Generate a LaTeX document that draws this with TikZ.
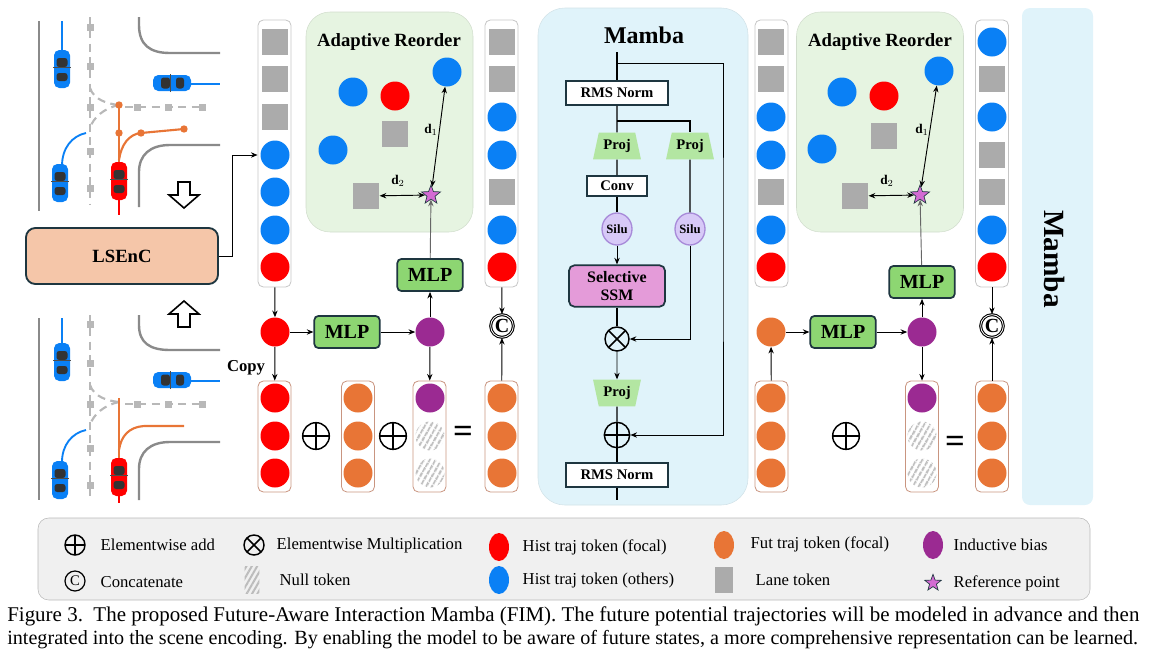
\documentclass[tikz,border=0pt]{standalone}
\usepackage{fontspec}
\setmainfont{Liberation Serif}
\usetikzlibrary{shapes.geometric,arrows.meta,patterns.meta,calc}
\definecolor{cred}{HTML}{FF0000}
\definecolor{cblue}{HTML}{0A80F5}
\definecolor{corange}{HTML}{E87536}
\definecolor{cpurple}{HTML}{9B2A92}
\definecolor{cgray}{HTML}{ABABAB}
\definecolor{cgreen}{HTML}{8DD672}
\definecolor{cdark}{HTML}{1E3640}
\definecolor{clse}{HTML}{F5C6A9}
\definecolor{cadapt}{HTML}{E6F4E1}
\definecolor{cmamba}{HTML}{E0F3FA}
\definecolor{cssm}{HTML}{E49BD9}
\definecolor{csilu}{HTML}{D7C9F7}
\definecolor{csilud}{HTML}{A88BD9}
\definecolor{cproj}{HTML}{B3E6A2}
\definecolor{cbrown}{HTML}{C99580}
\definecolor{cstar}{HTML}{D36BD3}
\definecolor{croad}{HTML}{8A8A8A}
\definecolor{cdash}{HTML}{B8B8B8}
\newcommand{\carat}[4]{\begin{scope}[shift={(#1,#2)},rotate=#3]
 \fill[#4,rounded corners=4pt] (-8,-19) rectangle (8,19);
 \fill[black!80,rounded corners=2pt] (-5.5,-11) rectangle (5.5,-2);
 \fill[black!80,rounded corners=2pt] (-5.5,4) rectangle (5.5,12);
 \draw[black!70,line width=0.6pt] (-9,-2) -- (9,-2);
 \end{scope}}
\tikzset{
 arr/.style={-{Stealth[length=5pt,width=4pt]},line width=0.7pt},
 darr/.style={{Stealth[length=5pt,width=4pt]}-{Stealth[length=5pt,width=4pt]},line width=0.7pt},
 tok/.style={circle,minimum size=21.75pt,inner sep=0pt},
 rt/.style={tok,fill=cred}, bt/.style={tok,fill=cblue}, ot/.style={tok,fill=corange}, ppt/.style={tok,fill=cpurple},
 nt/.style={tok,pattern={Lines[angle=60,distance=4pt,line width=1.7pt]},pattern color=cgray!75},
 lt/.style={rectangle,minimum size=20pt,inner sep=0pt,fill=cgray},
 col/.style={draw=gray!45,rounded corners=4pt,line width=0.6pt,minimum width=24.75pt,minimum height=200.25pt,inner sep=0pt},
 bcol/.style={draw=cbrown,rounded corners=4pt,line width=0.6pt,minimum width=24.75pt,minimum height=83.25pt,inner sep=0pt},
 mlp/.style={draw=cdark,line width=1.3pt,fill=cgreen,rounded corners=3pt,minimum width=49pt,minimum height=24pt,font=\bfseries\fontsize{15}{15}\selectfont},
 adapt/.style={fill=cadapt,draw=cadapt!80!gray,rounded corners=18pt,minimum width=125.25pt,minimum height=165pt},
 atitle/.style={font=\bfseries\fontsize{14}{14}\selectfont},
 strs/.style={star,star points=5,star point ratio=2.4,minimum size=15pt,inner sep=0pt,fill=cstar,draw=cdark,line width=0.5pt},
 oplus/.style={circle,draw,line width=1.1pt,minimum size=#1,inner sep=0pt,path picture={\draw[line width=1.1pt] (path picture bounding box.north)--(path picture bounding box.south) (path picture bounding box.west)--(path picture bounding box.east);}},
 otimes/.style={circle,draw,line width=1.1pt,minimum size=#1,inner sep=0pt,path picture={\draw[line width=1.1pt] (path picture bounding box.north west)--(path picture bounding box.south east) (path picture bounding box.south west)--(path picture bounding box.north east);}},
 concat/.style={circle,draw,double,line width=0.8pt,minimum size=17pt,inner sep=0pt,font=\bfseries\fontsize{15}{15}\selectfont},
 mbox/.style={draw=cdark,line width=1.3pt,fill=white,inner sep=0pt,font=\bfseries\fontsize{11}{11}\selectfont},
 proj/.style={trapezium,trapezium angle=72,fill=cproj,minimum width=36pt,minimum height=20pt,inner sep=0pt,trapezium stretches=true,font=\bfseries\fontsize{11}{11}\selectfont},
 silu/.style={ellipse,fill=csilu,draw=csilud,line width=1pt,minimum width=22.5pt,minimum height=24pt,inner sep=0pt,font=\bfseries\fontsize{9.5}{9.5}\selectfont},
 road/.style={croad,line width=1.8pt},
 dsh/.style={cdash,line width=1.6pt,dash pattern=on 6pt off 4pt},
 lgt/.style={anchor=west,font=\fontsize{12.5}{12.5}\selectfont},
 eq/.style={font=\bfseries\fontsize{26}{26}\selectfont},
}
\begin{document}
\begin{tikzpicture}[x=0.75pt,y=-0.75pt]
\useasboundingbox (0,0) rectangle (1149,657);

% ---------- left scenes ----------
% top scene
\draw[road] (39,21) -- (39,211);
\draw[road] (139,17) -- (139,25) .. controls (139,45) and (150,53) .. (170,53) -- (220,53);
\draw[road] (220,145) -- (170,145) .. controls (150,145) and (139,155) .. (139,172) -- (139,207);
\draw[dsh] (90,17) -- (90,205);
\foreach \yy in {27,66,107,151,188} \fill[cdash] (86.5,\yy-3.5) rectangle (93.5,\yy+3.5);
\draw[dsh] (125,107) -- (205,107);
\foreach \xx in {137,168,202} \fill[cdash] (\xx-3.5,103.5) rectangle (\xx+3.5,110.5);
\draw[dsh] (90,88) .. controls (94,100) and (108,104) .. (119,105);
\draw[dsh] (119,105) .. controls (104,108) and (93,118) .. (90,128);
\draw[cblue,line width=1.4pt] (62,21) -- (62,52);
\draw[cblue,line width=1.4pt] (190,84) -- (220,84);
\draw[cblue,line width=1.4pt] (62,166) .. controls (62,148) and (72,136) .. (86,133);
\draw[cred,line width=1.4pt] (119,200) -- (119,215);
\draw[corange,line width=1.6pt] (119,165) -- (119,105);
\draw[corange,line width=1.6pt] (119,160) .. controls (121,145) and (129,134) .. (141,133) -- (184,129);
\foreach \p in {(119,105),(119,133),(141,133),(184,129)} \fill[corange] \p circle (3.7);
\carat{62}{69}{0}{cblue}
\carat{172}{83}{90}{cblue}
\carat{60}{183}{0}{cblue}
\carat{119}{181}{0}{cred}
% hollow arrows
\draw[line width=1.2pt,fill=white] (178,182) -- (190,182) -- (190,195) -- (199,195) -- (184,208) -- (169,195) -- (178,195) -- cycle;
\draw[line width=1.2pt,fill=white] (178,327) -- (190,327) -- (190,314) -- (199,314) -- (184,301) -- (169,314) -- (178,314) -- cycle;
% bottom scene
\draw[road] (39,318) -- (39,500);
\draw[road] (139,315) -- (139,325) .. controls (139,343) and (150,350) .. (170,350) -- (220,350);
\draw[road] (220,442) -- (170,442) .. controls (150,442) and (139,452) .. (139,469) -- (139,500);
\draw[dsh] (90,315) -- (90,500);
\foreach \yy in {324,363,404,448,485} \fill[cdash] (86.5,\yy-3.5) rectangle (93.5,\yy+3.5);
\draw[dsh] (125,404) -- (205,404);
\foreach \xx in {137,168,202} \fill[cdash] (\xx-3.5,400.5) rectangle (\xx+3.5,407.5);
\draw[dsh] (90,385) .. controls (94,397) and (108,401) .. (119,402);
\draw[dsh] (119,402) .. controls (104,405) and (93,415) .. (90,425);
\draw[cblue,line width=1.4pt] (62,318) -- (62,345);
\draw[cblue,line width=1.4pt] (190,381) -- (220,381);
\draw[cblue,line width=1.4pt] (62,462) .. controls (62,445) and (72,433) .. (86,430);
\draw[cred,line width=1.4pt] (119,494) -- (119,503);
\draw[corange,line width=1.6pt] (119,460) -- (119,398);
\draw[corange,line width=1.6pt] (119,450) .. controls (121,436) and (129,427) .. (144,426) -- (184,426);
\carat{62}{362}{0}{cblue}
\carat{172}{380}{90}{cblue}
\carat{60}{480}{0}{cblue}
\carat{119}{477}{0}{cred}

% LSEnC
\node[draw=cdark,line width=1.4pt,fill=clse,rounded corners=7pt,minimum width=144pt,minimum height=42pt,font=\bfseries\fontsize{14}{14}\selectfont] (lse) at (122,256) {LSEnC};

% ---------- first FIM block ----------
\node[adapt] (ad1) at (389.5,122) {};
\node[atitle] (ad1t) at (389,42) {Adaptive Reorder};
\node[bt] (a1b1) at (353,92) {};
\node[rt] (a1r) at (395,96) {};
\node[lt] (a1s1) at (395,134) {};
\node[bt] (a1b2) at (333,150) {};
\node[bt] (a1b3) at (447,72) {};
\node[lt] (a1s2) at (366,196) {};
\node[strs] (st1) at (431,195) {};
\draw[darr] (st1) -- (a1b3);
\draw[darr] (a1s2) -- (st1);
\node[font=\bfseries\fontsize{10}{10}\selectfont] (d11) at (431,130) {d$_1$};
\node[font=\bfseries\fontsize{10}{10}\selectfont] (d21) at (398,181) {d$_2$};

\node[col] (c1) at (274.5,153.5) {};
\node[lt] (c1a) at (275,42) {};
\node[lt] (c1b) at (275,79) {};
\node[lt] (c1c) at (275,117) {};
\node[bt] (c1d) at (275,155) {};
\node[bt] (c1e) at (275,192) {};
\node[bt] (c1f) at (275,230) {};
\node[rt] (c1g) at (275,267) {};
\coordinate (lk) at (232,256);
\draw[arr] (lse.east) -- (lk) |- (c1.west |- c1d);

\node[col] (c2) at (501.5,153.5) {};
\node[lt] (c2a) at (502,42) {};
\node[lt] (c2b) at (502,79) {};
\node[bt] (c2c) at (502,117) {};
\node[bt] (c2d) at (502,155) {};
\node[lt] (c2e) at (502,192) {};
\node[bt] (c2f) at (502,230) {};
\node[rt] (c2g) at (502,267) {};

\node[rt] (r1) at (275,332) {};
\node[mlp] (m1) at (347,332) {MLP};
\node[ppt] (p1) at (430,332) {};
\node[mlp] (m2) at (430,275) {MLP};
\node[concat] (cat1) at (502,326) {C};
\draw[arr] (c1) -- (r1);
\draw[arr] (r1) -- (m1);
\draw[arr] (m1) -- (p1);
\draw[arr] (p1) -- (m2);
\draw[arr,gray!80!black] (m2) -- (st1);
\node[font=\bfseries\fontsize{12.5}{12.5}\selectfont] (copy) at (246,368) {Copy};

\node[bcol] (ca) at (274.5,436.5) {};
\node[rt] (ca1) at (275,398) {}; \node[rt] (ca2) at (275,436) {}; \node[rt] (ca3) at (275,473) {};
\node[oplus=20pt] (pl1) at (316,436) {};
\node[bcol] (cb) at (358,436.5) {};
\node[ot] (cb1) at (358,398) {}; \node[ot] (cb2) at (358,436) {}; \node[ot] (cb3) at (358,473) {};
\node[oplus=20pt] (pl2) at (393,436) {};
\node[bcol] (cc) at (429.5,436.5) {};
\node[ppt] (cc1) at (430,398) {}; \node[nt] (cc2) at (430,436) {}; \node[nt] (cc3) at (430,473) {};
\node[eq] (eq1) at (463,434) {=};
\node[bcol] (cd) at (501.5,436.5) {};
\node[ot] (cd1) at (502,398) {}; \node[ot] (cd2) at (502,436) {}; \node[ot] (cd3) at (502,473) {};
\draw[arr] (r1) -- (ca);
\draw[arr] (p1) -- (cc);
\draw[arr] (c2) -- (cat1);
\draw[arr] (cd) -- (cat1);

% ---------- Mamba panel ----------
\node[fill=cmamba,draw=cmamba!85!gray,rounded corners=20pt,minimum width=157.5pt,minimum height=372.75pt] (mp) at (643,256.5) {};
\node[font=\bfseries\fontsize{18}{18}\selectfont] (mt) at (644,35) {Mamba};
\node[mbox,minimum width=76.5pt,minimum height=18pt] (rms1) at (617,93) {RMS Norm};
\node[proj] (pjl) at (617,146) {Proj};
\node[proj] (pjr) at (690,146) {Proj};
\node[mbox,minimum width=45pt,minimum height=15pt] (conv) at (617,186) {Conv};
\node[silu] (sl) at (617,229) {Silu};
\node[silu] (sr) at (690,229) {Silu};
\node[draw=cdark,line width=1.3pt,fill=cssm,rounded corners=4pt,minimum width=72pt,minimum height=31pt,align=center,inner sep=0pt,font=\bfseries\fontsize{12}{13}\selectfont] (ssm) at (617,286) {Selective\\SSM};
\node[otimes=18pt] (mul) at (617,339) {};
\node[proj,shape border rotate=180] (pjb) at (617,393) {Proj};
\node[oplus=19pt] (add) at (617,435) {};
\node[mbox,minimum width=76.5pt,minimum height=18pt] (rms2) at (617,475) {RMS Norm};
\coordinate (mtop) at (617,52);
\coordinate (mbot) at (617,500);
\coordinate (sk) at (617,63);
\coordinate (skr) at (723,250);
\coordinate (br) at (617,121);
\draw[line width=0.8pt] (mtop) -- (rms1);
\draw[line width=0.8pt] (rms1) -- (pjl);
\draw[line width=0.8pt] (pjl) -- (conv);
\draw[line width=0.8pt] (conv) -- (sl);
\draw[arr] (sl) -- (ssm);
\draw[line width=0.8pt] (ssm) -- (mul);
\draw[arr] (mul) -- (pjb);
\draw[line width=0.8pt] (pjb) -- (add);
\draw[line width=0.8pt] (add) -- (rms2);
\draw[line width=0.8pt] (rms2) -- (mbot);
\draw[arr] (sk) -| (skr) |- (add);
\draw[line width=0.8pt] (br) -| (pjr);
\draw[line width=0.8pt] (pjr) -- (sr);
\draw[arr] (sr) |- (mul);

% ---------- second FIM block ----------
\node[adapt] (ad2) at (880,122) {};
\node[atitle] (ad2t) at (880,42) {Adaptive Reorder};
\node[bt] (a2b1) at (842,92) {};
\node[rt] (a2r) at (884,96) {};
\node[lt] (a2s1) at (884,136) {};
\node[bt] (a2b2) at (822,149) {};
\node[bt] (a2b3) at (939,71) {};
\node[lt] (a2s2) at (855,196) {};
\node[strs] (st2) at (920,195) {};
\draw[darr] (st2) -- (a2b3);
\draw[darr] (a2s2) -- (st2);
\node[font=\bfseries\fontsize{10}{10}\selectfont] (d12) at (922,130) {d$_1$};
\node[font=\bfseries\fontsize{10}{10}\selectfont] (d22) at (887,181) {d$_2$};

\node[col] (c3) at (771.5,153.5) {};
\node[lt] (c3a) at (771,42) {};
\node[lt] (c3b) at (771,79) {};
\node[bt] (c3c) at (771,117) {};
\node[bt] (c3d) at (771,155) {};
\node[lt] (c3e) at (771,192) {};
\node[bt] (c3f) at (771,230) {};
\node[rt] (c3g) at (771,267) {};

\node[col] (c4) at (992,153.5) {};
\node[bt] (c4a) at (992,42) {};
\node[lt] (c4b) at (992,79) {};
\node[bt] (c4c) at (992,117) {};
\node[lt] (c4d) at (992,155) {};
\node[lt] (c4e) at (992,192) {};
\node[bt] (c4f) at (992,230) {};
\node[rt] (c4g) at (992,267) {};

\node[ot] (o2) at (771,332) {};
\node[mlp] (m3) at (843,332) {MLP};
\node[ppt] (p2) at (922,332) {};
\node[mlp] (m4) at (922,282) {MLP};
\node[concat] (cat2) at (992,326) {C};
\draw[arr] (o2) -- (m3);
\draw[arr] (m3) -- (p2);
\draw[arr] (p2) -- (m4);
\draw[arr,gray!80!black] (m4) -- (st2);

\node[bcol] (ce) at (771.5,436.5) {};
\node[ot] (ce1) at (771,398) {}; \node[ot] (ce2) at (771,436) {}; \node[ot] (ce3) at (771,473) {};
\node[oplus=20pt] (pl3) at (846,436) {};
\node[bcol] (cf) at (922,436.5) {};
\node[ppt] (cf1) at (922,398) {}; \node[nt] (cf2) at (922,436) {}; \node[nt] (cf3) at (922,473) {};
\node[eq] (eq2) at (955,444) {=};
\node[bcol] (cg) at (992,436.5) {};
\node[ot] (cg1) at (992,398) {}; \node[ot] (cg2) at (992,436) {}; \node[ot] (cg3) at (992,473) {};
\draw[arr] (ce) -- (o2);
\draw[arr] (p2) -- (cf);
\draw[arr] (c4) -- (cat2);
\draw[arr] (cg) -- (cat2);

% Mamba vertical panel
\node[fill=cmamba,rounded corners=6pt,minimum width=53.25pt,minimum height=372.75pt] (mv) at (1057.5,256.5) {};
\node[rotate=-90,font=\bfseries\fontsize{22}{22}\selectfont] (mvt) at (1055,259) {Mamba};

% ---------- legend ----------
\node[fill=gray!12,draw=gray!55,rounded corners=8pt,minimum width=789pt,minimum height=61.5pt] (lg) at (564,559) {};
\node[oplus=15pt] (l1) at (75,545) {};
\node[lgt] (l1t) at (96,545) {Elementwise add};
\node[circle,draw,line width=0.9pt,minimum size=15pt,inner sep=0pt,font=\fontsize{11}{11}\selectfont] (l2) at (75,581) {C};
\node[lgt] (l2t) at (96,582) {Concatenate};
\node[otimes=15pt] (l3) at (254,545) {};
\node[lgt] (l3t) at (272,545) {Elementwise Multiplication};
\node[rectangle,minimum width=11pt,minimum height=20pt,pattern={Lines[angle=60,distance=3.5pt,line width=1.5pt]},pattern color=cgray!80] (l4) at (252,580) {};
\node[lgt] (l4t) at (275,580) {Null token};
\node[ellipse,fill=cred,minimum width=15pt,minimum height=21pt,inner sep=0pt] (l5) at (499,547) {};
\node[lgt] (l5t) at (518,547) {Hist traj token (focal)};
\node[ellipse,fill=cblue,minimum width=15pt,minimum height=21pt,inner sep=0pt] (l6) at (499,580) {};
\node[lgt] (l6t) at (518,580) {Hist traj token (others)};
\node[ellipse,fill=corange,minimum width=15pt,minimum height=21pt,inner sep=0pt] (l7) at (724,545) {};
\node[lgt] (l7t) at (746,544) {Fut traj token (focal)};
\node[rectangle,fill=cgray,minimum width=13pt,minimum height=20pt,inner sep=0pt] (l8) at (724,580) {};
\node[lgt] (l8t) at (751,580) {Lane token};
\node[ellipse,fill=cpurple,minimum width=15pt,minimum height=21pt,inner sep=0pt] (l9) at (933,545) {};
\node[lgt] (l9t) at (949,545) {Inductive bias};
\node[strs,minimum size=13pt] (l10) at (933,583) {};
\node[lgt] (l10t) at (949,583) {Reference point};

% ---------- caption ----------
\node[anchor=west,inner sep=0pt] (cap1) at (7,616) {\resizebox{849pt}{!}{\fontsize{12}{12}\selectfont Figure 3.\ \ The proposed Future-Aware Interaction Mamba (FIM). The future potential trajectories will be modeled in advance and then}};
\node[anchor=west,inner sep=0pt] (cap2) at (7,640) {\resizebox{848pt}{!}{\fontsize{12}{12}\selectfont integrated into the scene encoding. By enabling the model to be aware of future states, a more comprehensive representation can be learned.}};
\end{tikzpicture}
\end{document}
